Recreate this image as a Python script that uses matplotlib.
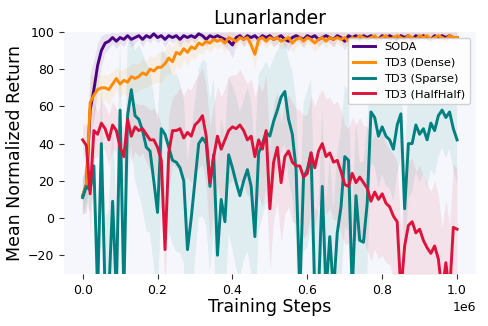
import numpy as np
import matplotlib
matplotlib.use("Agg")
import matplotlib.pyplot as plt

steps = np.arange(0, 1_000_001, 10_000)

soda = [12, 18, 58, 69, 82, 90, 94, 95, 97, 95, 97, 96, 98, 96, 97, 98, 96, 98, 97, 99,
        97, 98, 96, 98, 97, 98, 96, 98, 97, 98, 97, 99, 98, 96, 98, 97, 98, 97, 96, 95,
        93, 97, 98, 96, 98, 97, 98, 96, 98, 97, 98, 96, 97, 98, 96, 95, 97, 98, 97, 96,
        98, 97, 98, 96, 97, 98, 97, 96, 98, 97, 95, 98, 97, 98, 96, 98, 97, 98, 97, 96,
        98, 97, 98, 97, 96, 98, 97, 98, 96, 98, 97, 98, 97, 96, 98, 97, 98, 97, 98, 97, 97]

dense = [12, 18, 62, 66, 69, 70, 70, 69, 72, 75, 72, 74, 73, 76, 75, 76, 78, 77, 80, 79,
         81, 81, 83, 86, 84, 89, 88, 91, 89, 92, 91, 94, 93, 95, 94, 96, 95, 96, 94, 97,
         96, 95, 97, 96, 97, 93, 88, 96, 97, 95, 97, 96, 97, 95, 96, 97, 94, 96, 97, 95,
         97, 96, 94, 96, 97, 95, 97, 96, 97, 96, 97, 95, 97, 96, 98, 97, 96, 97, 98, 96,
         97, 98, 96, 97, 98, 97, 96, 98, 97, 96, 98, 97, 98, 96, 97, 98, 97, 96, 98, 97, 97]

sparse = [11, 17, 15, 28, -40, 40, -40, -40, 9, -40, 58, -40, 55, 69, 55, 53, 47, 38, 36, 20,
          3, 48, 45, 38, 31, 30,
          27, 20, -17, 0, 20, 40, 43, 40, 17, 34, -20, 10, -2, 34, 27, 19, 12, 20, 26, 17,
          -10, 35, 40, 46, 44, 52,
          58, 65, 68, 53, 45, 26, -40, 22, 26, 35, -40, -40, 17, -40, -10, -40, -8, 6, 33, 31,
          -40, 12, -12, -13, 8, 57,
          54, 44, 49, 44, 42, 37, 50, 56, 5, 40, 40, 50, 45, 48, 42, 51, 47, 55, 58, 54,
          57, 48, 42]

halfhalf = [42, 39, 13, 47, 45, 51, 48, 42, 50, 47, 38, 33, 53, 44, 49, 47, 48, 45, 42, 42,
            38, 31, -17, 35, 47, 47,
            48, 43, 46, 44, 50, 52, 55, 44, 19, 33, 44, 37, 42, 47, 49, 48, 50, 47, 42, 44,
            33, 42, 37, 47, 5, 30,
            38, 19, 33, 36, 30, 28, 28, 22, 24, 35, 27, 36, 40, 33, 35, 30, 31, 25, 18, 17,
            24, 19, 22, 19, 16, 9,
            14, 10, 13, 8, 6, 1, -2, -40, -15, -4, -2, -8, -6, -12, -16, -19, -15, -22, -40, -24,
            -40, -5, -6]

soda_std = [10, 15, 20, 16, 12, 8, 5, 4, 3, 4, 3, 4, 2, 4, 3, 2, 4, 2, 3, 2,
            3, 2, 4, 2, 3, 2, 4, 2, 3, 2, 3, 2, 2, 4, 2, 3, 2, 3, 4, 5,
            7, 3, 2, 4, 2, 3, 2, 4, 2, 3, 2, 4, 3, 2, 4, 5, 3, 2, 3, 4,
            2, 3, 2, 4, 3, 2, 3, 4, 2, 3, 5, 2, 3, 2, 4, 2, 3, 2, 3, 4,
            2, 3, 2, 3, 4, 2, 3, 2, 4, 2, 3, 2, 3, 4, 2, 3, 2, 3, 2, 3, 3]

dense_std = [10, 12, 15, 10, 8, 7, 7, 8, 7, 6, 7, 7, 8, 7, 8, 7, 8, 7, 8, 7,
             8, 8, 7, 8, 8, 7, 8, 6, 7, 6, 6, 5, 5, 4, 5, 4, 4, 4, 5, 3,
             4, 4, 3, 4, 3, 5, 8, 4, 3, 4, 3, 4, 3, 4, 4, 3, 5, 4, 3, 4,
             3, 4, 5, 4, 3, 4, 3, 4, 3, 4, 3, 4, 3, 4, 2, 3, 4, 3, 2, 4,
             3, 2, 4, 3, 2, 3, 4, 2, 3, 4, 2, 3, 2, 4, 3, 2, 3, 4, 2, 3, 3]

sparse_std = [10, 8, 12, 15, 25, 35, 40, 45, 42, 48, 40, 45, 38, 30, 35, 40, 42, 45, 44, 46,
              48, 42, 44, 46, 45, 48, 46, 44, 47, 45, 43, 40, 42, 44, 46, 42, 48, 44, 46, 42,
              44, 46, 45, 43, 44, 46, 48, 42, 40, 38, 36, 34, 32, 30, 28, 32, 34, 38, 44, 40,
              42, 40, 45, 44, 42, 46, 44, 45, 43, 42, 38, 38, 45, 40, 42, 43, 40, 28, 26, 28,
              25, 27, 26, 28, 26, 24, 26, 30, 26, 25, 26, 24, 26, 25, 24, 22, 20, 22, 20, 22, 24]

half_std = [8, 12, 22, 15, 12, 13, 12, 14, 13, 12, 14, 15, 13, 14, 13, 14, 13, 15, 16, 17,
            18, 19, 22, 20, 18, 20, 22, 23, 24, 25, 24, 25, 26, 27, 30, 28, 27, 28, 28, 29,
            28, 29, 30, 29, 30, 31, 32, 30, 31, 30, 33, 31, 30, 32, 31, 30, 32, 31, 30, 33,
            32, 31, 33, 30, 29, 31, 30, 31, 32, 33, 32, 31, 30, 31, 32, 31, 33, 32, 31, 32,
            33, 32, 31, 33, 32, 34, 33, 35, 34, 33, 34, 35, 34, 33, 35, 34, 35, 34, 36, 34, 33]

series = [
    ("SODA", soda, soda_std, "#4b0082"),
    ("TD3 (Dense)", dense, dense_std, "#ff8c00"),
    ("TD3 (Sparse)", sparse, sparse_std, "#008080"),
    ("TD3 (HalfHalf)", halfhalf, half_std, "#dc143c"),
]

fig = plt.figure(figsize=(4.88, 3.26), dpi=100)
ax = fig.add_axes([0.131, 0.160, 0.844, 0.742])
ax.set_facecolor("#f6f7fc")

for label, mean, std, color in series:
    m = np.array(mean, dtype=float)
    s = np.array(std, dtype=float)
    ax.fill_between(steps, m - s, m + s, color=color, alpha=0.09, linewidth=0)
for label, mean, std, color in series:
    ax.plot(steps, mean, color=color, lw=2.1, label=label)

ax.set_ylim(-30, 100)
ax.set_xlim(-50_000, 1_050_000)
ax.set_yticks([-20, 0, 20, 40, 60, 80, 100])
ax.set_xticks([0, 200_000, 400_000, 600_000, 800_000, 1_000_000])
for sp in ax.spines.values():
    sp.set_visible(False)
ax.tick_params(labelsize=9, length=3.5, width=0.8, color="#333333")
ax.xaxis.get_offset_text().set_fontsize(9)

ax.set_title("Lunarlander", fontsize=13.5)
ax.set_xlabel("Training Steps", fontsize=12.5, labelpad=1)
ax.set_ylabel("Mean Normalized Return", fontsize=12.5, labelpad=3)
ax.legend(loc="upper right", fontsize=8.2, framealpha=0.85, borderaxespad=0.5,
          handlelength=2.0)

fig.savefig("out.png", dpi=100)
